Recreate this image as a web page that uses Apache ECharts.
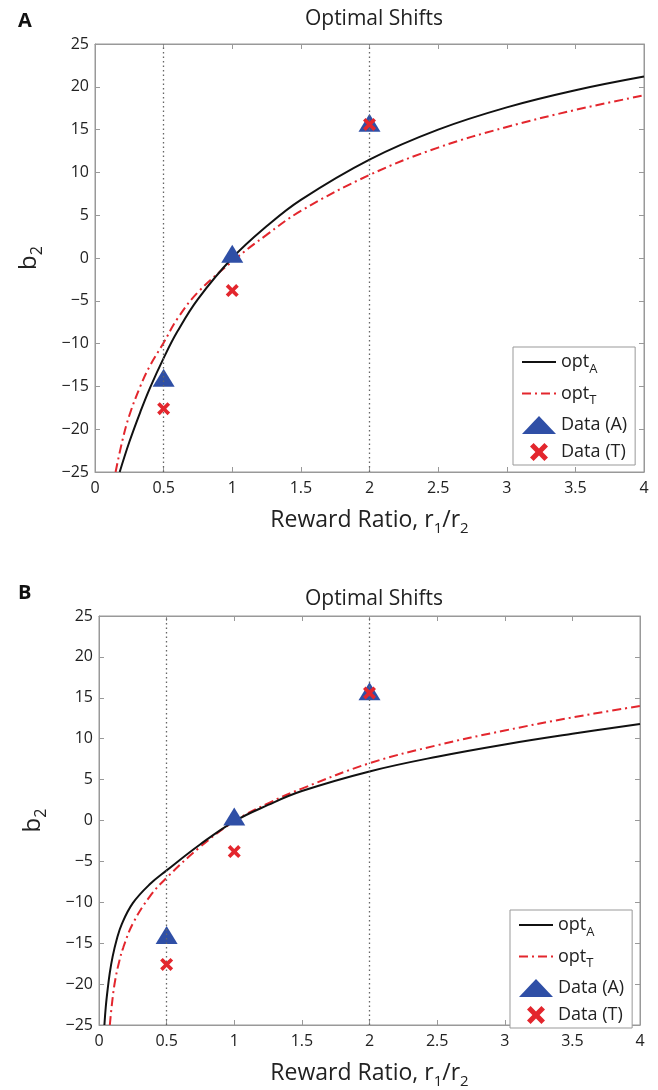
<!DOCTYPE html>
<html>
<head>
<meta charset="utf-8">
<script src="https://cdn.jsdelivr.net/npm/echarts@6/dist/echarts.min.js"></script>
<style>
  html, body { margin: 0; padding: 0; background: #fff; }
  #chart { width: 658px; height: 1090px; }
</style>
</head>
<body>
<div id="chart"></div>
<script>
// panel A curves
const aOptA_r = [0.18, 0.25, 0.33, 0.4, 0.5, 0.6, 0.75, 1, 1.25, 1.5, 2, 2.5, 3, 3.5, 4]
const aOptA_b = [-25, -21.5, -18, -15.2, -11.7, -8.6, -4.8, 0, 3.7, 6.8, 11.5, 15.0, 17.6, 19.6, 21.2]
const aOptT_r = [0.15, 0.2, 0.25, 0.33, 0.4, 0.5, 0.6, 0.75, 1, 1.25, 1.5, 2, 2.5, 3, 3.5, 4]
const aOptT_b = [-25, -21.3, -18.4, -15.0, -12.6, -9.9, -7.1, -4.0, -0.4, 2.7, 5.5, 9.7, 12.9, 15.3, 17.3, 19.0]

// panel B curves
const bOptA_r = [0.04, 0.05, 0.065, 0.08, 0.1, 0.13, 0.17, 0.25, 0.375, 0.5, 0.75, 1, 1.25, 1.5, 2, 2.5, 3, 3.5, 4]
const bOptA_b = [-25, -22.8, -20.5, -18.6, -16.7, -14.6, -12.6, -10.1, -7.8, -6.1, -2.9, -0.1, 1.9, 3.6, 6.0, 7.8, 9.3, 10.6, 11.8]
const bOptT_r = [0.08, 0.1, 0.12, 0.15, 0.18, 0.25, 0.375, 0.5, 0.75, 1, 1.25, 1.5, 2, 2.5, 3, 3.5, 4]
const bOptT_b = [-25, -21.8, -19.5, -17.2, -15.5, -12.6, -9.3, -7.0, -3.2, -0.1, 2.1, 3.9, 7.0, 9.2, 11.0, 12.6, 14.0]

// measured data, same in both panels
const dataR = [0.5, 1, 2]
const dataA = [-14, 0.5, 15.8]
const dataT = [-17.6, -3.8, 15.6]

// dotted reference lines
const refLines = [0.5, 2]

const zip = (xs, ys) => xs.map((x, i) => [x, ys[i]])

const FONT = 'Open Sans'
const crossPath = 'path://M2,0 L5,3 L8,0 L10,2 L7,5 L10,8 L8,10 L5,7 L2,10 L0,8 L3,5 L0,2 Z'
const legendText = {
  optA: 'opt{sub|A}',
  optT: 'opt{sub|T}',
  'Data (A)': 'Data (A)',
  'Data (T)': 'Data (T)'
}

const chart = echarts.init(document.getElementById('chart'))

const tickStyle = { show: true, inside: true, length: 5, lineStyle: { color: '#999' } }
const lineStyleAxis = { show: true, onZero: false, lineStyle: { color: '#999', width: 1 } }

const mainX = (grid) => ({
  type: 'value', gridIndex: grid, min: 0, max: 4, interval: 0.5,
  axisLine: lineStyleAxis,
  axisTick: tickStyle,
  splitLine: { show: false },
  axisLabel: { color: '#222', fontSize: 16, fontFamily: FONT, margin: 8,
    formatter: v => String(v) },
  name: 'Reward Ratio, r{sub|1}/r{sub|2}',
  nameLocation: 'middle', nameGap: 33,
  nameTextStyle: { color: '#222', fontSize: 23, fontFamily: FONT,
    rich: { sub: { fontSize: 15, fontFamily: FONT, color: '#222', padding: [16, 0, 0, 0] } } }
})
const mirrorX = (grid) => ({
  type: 'value', gridIndex: grid, min: 0, max: 4, interval: 0.5, position: 'top',
  axisLine: lineStyleAxis, axisLabel: { show: false }, splitLine: { show: false },
  axisTick: tickStyle
})
const mainY = (grid) => ({
  type: 'value', gridIndex: grid, min: -25, max: 25, interval: 5,
  axisLine: lineStyleAxis,
  axisTick: tickStyle,
  splitLine: { show: false },
  axisLabel: { color: '#222', fontSize: 16, fontFamily: FONT, margin: 6,
    formatter: v => v < 0 ? '\u2212' + Math.abs(v) : String(v) },
  name: 'b{sub|2}',
  nameLocation: 'middle', nameGap: 50,
  nameTextStyle: { color: '#222', fontSize: 24, fontFamily: FONT,
    rich: { sub: { fontSize: 16, fontFamily: FONT, color: '#222', padding: [16, 0, 0, 0] } } }
})
const mirrorY = (grid) => ({
  type: 'value', gridIndex: grid, min: -25, max: 25, interval: 5, position: 'right',
  axisLine: lineStyleAxis, axisLabel: { show: false }, splitLine: { show: false },
  axisTick: tickStyle
})

const panelSeries = (p, optA_r, optA_b, optT_r, optT_b) => {
  const ax = p * 2, ay = p * 2
  return [
    {
      name: 'optA', type: 'line', xAxisIndex: ax, yAxisIndex: ay,
      data: zip(optA_r, optA_b), smooth: 0.4, symbol: 'none', z: 3,
      lineStyle: { color: '#111', width: 2 }, itemStyle: { color: '#111' },
      markLine: {
        silent: true, symbol: 'none', label: { show: false },
        lineStyle: { color: '#666', width: 1.3, type: [1.5, 3] },
        data: refLines.map(v => ({ xAxis: v }))
      }
    },
    {
      name: 'optT', type: 'line', xAxisIndex: ax, yAxisIndex: ay,
      data: zip(optT_r, optT_b), smooth: 0.4, symbol: 'none', z: 2,
      lineStyle: { color: '#e3262d', width: 2, type: [9, 4, 2, 4] }, itemStyle: { color: '#e3262d' }
    },
    {
      name: 'Data (A)', type: 'scatter', xAxisIndex: ax, yAxisIndex: ay,
      data: zip(dataR, dataA), symbol: 'triangle', symbolSize: [22, 18], z: 4,
      itemStyle: { color: '#2f4fa6', opacity: 1 }
    },
    {
      name: 'Data (T)', type: 'scatter', xAxisIndex: ax, yAxisIndex: ay,
      data: zip(dataR, dataT), symbol: crossPath, symbolSize: 13, z: 5,
      itemStyle: { color: '#e3262d', opacity: 1 }
    }
  ]
}

const legendBox = (left, top) => ({
  orient: 'vertical', left: left, top: top,
  data: [
    { name: 'optA', itemStyle: { opacity: 0 } },
    { name: 'optT', itemStyle: { opacity: 0 } },
    { name: 'Data (A)' },
    { name: 'Data (T)' }
  ],
  backgroundColor: '#fff', borderColor: '#999', borderWidth: 1,
  padding: [6, 8, 4, 8], itemGap: 9, itemWidth: 34, itemHeight: 18,
  selectedMode: false,
  formatter: name => legendText[name],
  textStyle: { color: '#222', fontSize: 18, fontFamily: FONT,
    rich: { sub: { fontSize: 13, fontFamily: FONT, color: '#222', padding: [14, 0, 0, 0] } } }
})

chart.setOption({
  backgroundColor: '#fff',
  animation: false,
  title: [
    { text: 'A', left: 13, top: 6, textStyle: { fontSize: 20, fontWeight: 'bold', fontFamily: FONT, color: '#111' } },
    { text: 'Optimal Shifts', left: 369, top: 4, textAlign: 'center',
      textStyle: { fontSize: 21, fontWeight: 'normal', fontFamily: FONT, color: '#222' } },
    { text: 'B', left: 13, top: 578, textStyle: { fontSize: 20, fontWeight: 'bold', fontFamily: FONT, color: '#111' } },
    { text: 'Optimal Shifts', left: 369, top: 584, textAlign: 'center',
      textStyle: { fontSize: 21, fontWeight: 'normal', fontFamily: FONT, color: '#222' } }
  ],
  grid: [
    { left: 95, top: 44, width: 549, height: 428, show: true, borderColor: '#999', borderWidth: 1 },
    { left: 99, top: 616, width: 541, height: 414, show: true, borderColor: '#999', borderWidth: 1 }
  ],
  xAxis: [mainX(0), mirrorX(0), mainX(1), mirrorX(1)],
  yAxis: [mainY(0), mirrorY(0), mainY(1), mirrorY(1)],
  legend: [legendBox(513, 347), legendBox(510, 910)],
  series: [
    ...panelSeries(0, aOptA_r, aOptA_b, aOptT_r, aOptT_b),
    ...panelSeries(1, bOptA_r, bOptA_b, bOptT_r, bOptT_b)
  ]
})

window.addEventListener('resize', () => chart.resize())
</script>
</body>
</html>
